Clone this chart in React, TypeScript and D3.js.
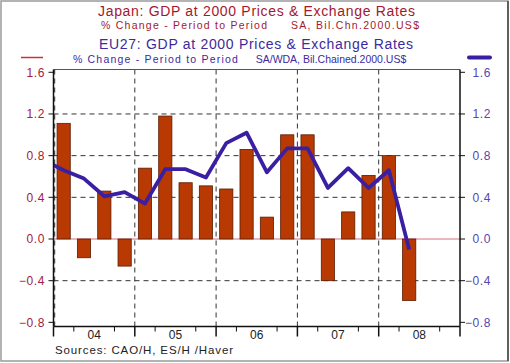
import * as d3 from 'd3';
import React from 'react';

// quarters 2004Q1 .. 2008Q2
const japanGdp = [
  1.11, -0.18, 0.46, -0.26, 0.68, 1.18, 0.54, 0.51, 0.48, 0.86, 0.21, 1.0,
  1.0, -0.4, 0.26, 0.61, 0.8, -0.59,
];
// starts one quarter earlier (2003Q4), clipped at the left axis
const eu27Gdp = [
  0.76, 0.66, 0.58, 0.41, 0.45, 0.34, 0.67, 0.67, 0.59, 0.92, 1.02, 0.64,
  0.87, 0.87, 0.49, 0.68, 0.49, 0.66, -0.1,
];
const years = ['04', '05', '06', '07', '08'];
const yTicks = [1.6, 1.2, 0.8, 0.4, 0.0, -0.4, -0.8];
const gridTicks = [1.2, 0.8, 0.4, -0.4];

const RED = '#a3182f';
const RED_TICK = '#a3203c';
const BLUE = '#3d2a9c';
const BLUE_TICK = '#5646b0';
const BAR = '#b83a02';
const LINE = '#3b1fa2';
const FONT = '"Liberation Sans", Arial, sans-serif';

const App: React.FC = () => {
  const W = 510;
  const H = 363;
  const plot = { left: 53.5, right: 460, top: 69.5, bottom: 326.5 };

  // one unit per quarter, 20 quarters 2004..2008
  const x = d3.scaleLinear().domain([0, 20]).range([plot.left, plot.right]);
  const y = d3.scaleLinear().domain([0, 1.6]).range([239, 72.3]);

  const barW = (x(1) - x(0)) * 0.65;

  const line = d3
    .line<number>()
    .x((_, i) => x(i - 1 + 0.5))
    .y((d) => y(d));

  const dash = '5,4';

  return (
    <svg
      width={W}
      height={H}
      style={{ position: 'absolute', left: 0, top: 0, background: '#fff' }}
      fontFamily={FONT}
    >
      <defs>
        <clipPath id="plotClip">
          <rect
            x={plot.left}
            y={plot.top}
            width={plot.right - plot.left}
            height={plot.bottom - plot.top}
          />
        </clipPath>
      </defs>

      {/* outer frame */}
      <rect x={1} y={1} width={507} height={360} fill="#fff" stroke="#9a9a9a" strokeWidth={1.5} />
      <line x1={508} y1={1} x2={508} y2={361} stroke="#444" strokeWidth={1.5} />

      {/* titles */}
      <text x={256.5} y={16} textAnchor="middle" fontSize={14} fill={RED}
        textLength={317} lengthAdjust="spacing">
        Japan: GDP at 2000 Prices &amp; Exchange Rates
      </text>
      <text x={184} y={28.5} textAnchor="middle" fontSize={10.5} fill={RED}
        textLength={166} lengthAdjust="spacing">
        % Change - Period to Period
      </text>
      <text x={355} y={28.5} textAnchor="middle" fontSize={10.5} fill={RED}
        textLength={128} lengthAdjust="spacing">
        SA, Bil.Chn.2000.US$
      </text>
      <text x={256} y={49} textAnchor="middle" fontSize={14} fill={BLUE}
        textLength={314} lengthAdjust="spacing">
        EU27: GDP at 2000 Prices &amp; Exchange Rates
      </text>
      <text x={155.4} y={62.5} textAnchor="middle" fontSize={10.5} fill={BLUE}
        textLength={165} lengthAdjust="spacing">
        % Change - Period to Period
      </text>
      <text x={331} y={62.5} textAnchor="middle" fontSize={10.5} fill={BLUE}>
        SA/WDA, Bil.Chained.2000.US$
      </text>

      {/* legend keys */}
      <line x1={21} y1={57.5} x2={43} y2={57.5} stroke="#c8303e" strokeWidth={1.5} />
      <line x1={469} y1={57.5} x2={490} y2={57.5} stroke={LINE} strokeWidth={4} strokeLinecap="round" />

      {/* grid */}
      {gridTicks.map((t) => (
        <line
          key={'h' + t}
          x1={plot.left}
          x2={plot.right}
          y1={y(t)}
          y2={y(t)}
          stroke="#333"
          strokeWidth={1}
          strokeDasharray={dash}
        />
      ))}
      {d3.range(0, 5).map((i) => (
        <line
          key={'v' + i}
          x1={x(i * 4) + (i === 0 ? 1.2 : 0)}
          x2={x(i * 4) + (i === 0 ? 1.2 : 0)}
          y1={plot.top}
          y2={plot.bottom}
          stroke="#333"
          strokeWidth={1}
          strokeDasharray={dash}
        />
      ))}

      {/* zero line */}
      <line x1={plot.left} x2={plot.right} y1={y(0)} y2={y(0)} stroke="#d8707e" strokeWidth={1} />

      {/* bars */}
      {japanGdp.map((v, i) => (
        <rect
          key={'b' + i}
          x={x(i + 0.5) - barW / 2}
          y={Math.min(y(v), y(0))}
          width={barW}
          height={Math.abs(y(v) - y(0))}
          fill={BAR}
          stroke="#5a1c04"
          strokeWidth={0.8}
        />
      ))}

      {/* EU27 line */}
      <path
        d={line(eu27Gdp) ?? ''}
        fill="none"
        stroke={LINE}
        strokeWidth={3.8}
        strokeLinejoin="round"
        clipPath="url(#plotClip)"
      />

      {/* frame of plot */}
      <line x1={plot.left} x2={plot.right} y1={plot.top} y2={plot.top} stroke="#555" strokeWidth={1} />
      <line x1={plot.left} x2={plot.right} y1={plot.bottom} y2={plot.bottom} stroke="#111" strokeWidth={1.5} />
      <line x1={plot.left} x2={plot.left} y1={plot.top} y2={plot.bottom} stroke="#111" strokeWidth={1.5} />
      <line x1={plot.right} x2={plot.right} y1={plot.top} y2={plot.bottom} stroke="#111" strokeWidth={1.5} />

      {/* left axis */}
      {yTicks.map((t) => (
        <g key={'l' + t}>
          <line x1={plot.left - 5} x2={plot.left} y1={y(t)} y2={y(t)} stroke="#111" />
          <text
            x={45}
            y={y(t) + 4.2}
            textAnchor="end"
            fontSize={12}
            letterSpacing={0.6}
            fill={RED_TICK}
          >
            {d3.format('.1f')(t)}
          </text>
        </g>
      ))}

      {/* right axis */}
      {yTicks.map((t) => (
        <g key={'r' + t}>
          <line x1={plot.right} x2={plot.right + 5} y1={y(t)} y2={y(t)} stroke="#111" />
          <text
            x={491}
            y={y(t) + 4.2}
            textAnchor="end"
            fontSize={12}
            letterSpacing={0.6}
            fill={BLUE_TICK}
          >
            {d3.format('.1f')(t)}
          </text>
        </g>
      ))}

      {/* bottom axis ticks */}
      {d3.range(0, 21).map((q) =>
        q % 4 === 2 ? null : (
          <line
            key={'t' + q}
            x1={x(q)}
            x2={x(q)}
            y1={plot.bottom}
            y2={plot.bottom + (q % 4 === 0 ? 10 : 5)}
            stroke="#111"
            strokeWidth={q % 4 === 0 ? 1.5 : 1}
          />
        )
      )}
      {years.map((yr, i) => (
        <text
          key={'y' + yr}
          x={x(i * 4 + 2)}
          y={339}
          textAnchor="middle"
          fontSize={12}
          fill="#222"
        >
          {yr}
        </text>
      ))}

      <text x={55} y={354} fontSize={11.5} fill="#222" textLength={178} lengthAdjust="spacing">
        Sources:  CAO/H, ES/H /Haver
      </text>
    </svg>
  );
};

export default App;
